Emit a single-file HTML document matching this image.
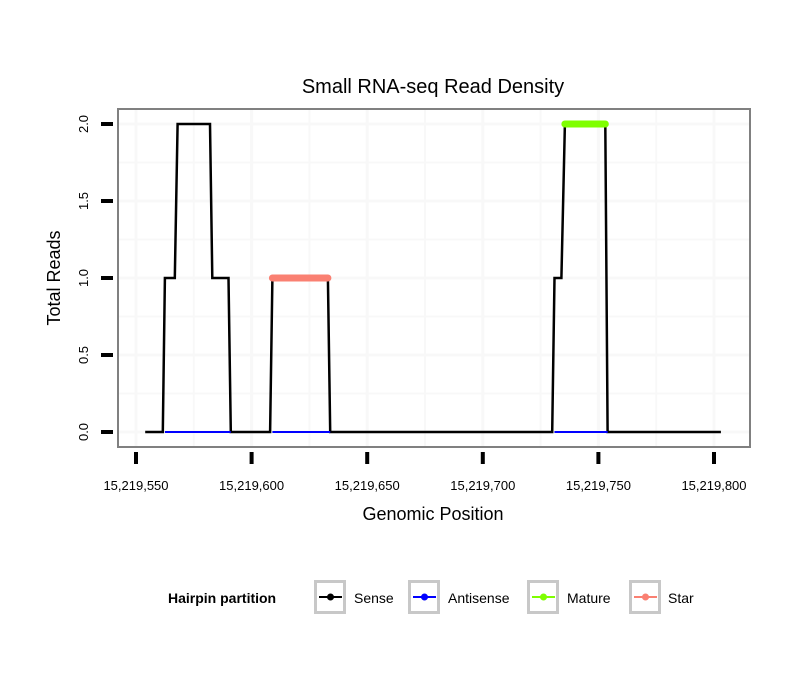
<!DOCTYPE html>
<html><head><meta charset="utf-8"><style>
body{margin:0;background:#fff;}
svg text{font-family:"Liberation Sans",sans-serif;}
</style></head><body>
<svg id="chart" width="810" height="690" viewBox="0 0 810 690">
<rect x="0" y="0" width="810" height="690" fill="#fff"/>
<text x="433" y="93" font-size="20" text-anchor="middle" fill="#000">Small RNA-seq Read Density</text>
<g id="grid"></g>
<g id="series"></g>
<rect x="118" y="109" width="632" height="338" fill="none" stroke="#808080" stroke-width="2"/>
<g id="axes"></g>
<text x="433" y="520" font-size="18" text-anchor="middle">Genomic Position</text>
<text transform="translate(60,278) rotate(-90)" font-size="18" text-anchor="middle">Total Reads</text>
<g id="legend">
<text x="168" y="603" font-size="14" font-weight="bold">Hairpin partition</text>
</g>
</svg>
<script>
const xTicks=[15219550,15219600,15219650,15219700,15219750,15219800];
const xTickLabels=["15,219,550","15,219,600","15,219,650","15,219,700","15,219,750","15,219,800"];
const yTicks=[0,0.5,1,1.5,2];
const yTickLabels=["0.0","0.5","1.0","1.5","2.0"];
const senseX=[15219554,15219561.6,15219562.5,15219566.8,15219568,15219582,15219583,15219590,15219591,15219608,15219609,15219633,15219634,15219730,15219731,15219734,15219735.5,15219753,15219754,15219803];
const senseY=[0,0,1,1,2,2,1,1,0,0,1,1,0,0,1,1,2,2,0,0];
const antisenseSegs=[[15219562.5,15219591],[15219609,15219634],[15219731,15219754]];
const matureSeg=[15219735.5,15219753];
const matureVal=2;
const starSeg=[15219609,15219633];
const starVal=1;
const legendLabels=["Sense","Antisense","Mature","Star"];
const legendColors=["#000000","#0000ff","#7fff00","#fa8072"];

const NS="http://www.w3.org/2000/svg";
function X(v){return 136+(v-15219550)*(578/250);}
function Y(v){return 432-v*154;}
function mk(tag,attrs,parent){const e=document.createElementNS(NS,tag);for(const k in attrs)e.setAttribute(k,attrs[k]);parent.appendChild(e);return e;}
const grid=document.getElementById('grid'),series=document.getElementById('series'),axes=document.getElementById('axes'),legend=document.getElementById('legend');
for(let i=0;i<xTicks.length;i++){
  for(const v of [xTicks[i],xTicks[i]+25]){
    const x=X(v); if(x<118||x>750) continue;
    const l=mk('line',{x1:x,x2:x,y1:109,y2:447,stroke:'#f8f8f8','stroke-width':v===xTicks[i]?3:2},grid);
    
    
  }
  const t=mk('line',{x1:X(xTicks[i]),x2:X(xTicks[i]),y1:452,y2:464,stroke:'#000','stroke-width':4},axes);
  
  
  const tx=mk('text',{x:X(xTicks[i]),y:490,'font-size':13,'text-anchor':'middle'},axes);tx.textContent=xTickLabels[i];
  
  
}
for(let i=0;i<yTicks.length;i++){
  for(const v of [yTicks[i],yTicks[i]+0.25]){
    const y=Y(v); if(y<109||y>447) continue;
    const l=mk('line',{x1:118,x2:750,y1:y,y2:y,stroke:'#f8f8f8','stroke-width':v===yTicks[i]?3:2},grid);
    
    
  }
  const t=mk('line',{x1:101,x2:113,y1:Y(yTicks[i]),y2:Y(yTicks[i]),stroke:'#000','stroke-width':4},axes);
  
  
  const tx=mk('text',{transform:`translate(88,${Y(yTicks[i])}) rotate(-90)`,'font-size':13,'text-anchor':'middle'},axes);tx.textContent=yTickLabels[i];
  
  
}
const pts=senseX.map((v,i)=>X(v).toFixed(1)+','+Y(senseY[i]).toFixed(1)).join(' ');
const sl=mk('polyline',{points:pts,fill:'none',stroke:'#000','stroke-width':2.5},series);


for(const s of antisenseSegs){
  const l=mk('line',{x1:X(s[0]),x2:X(s[1]),y1:Y(0),y2:Y(0),stroke:'#0000ff','stroke-width':2},series);
  
  
}
const ml=mk('line',{x1:X(matureSeg[0]),x2:X(matureSeg[1]),y1:Y(matureVal),y2:Y(matureVal),stroke:'#7fff00','stroke-width':7,'stroke-linecap':'round'},series);


const st=mk('line',{x1:X(starSeg[0]),x2:X(starSeg[1]),y1:Y(starVal),y2:Y(starVal),stroke:'#fa8072','stroke-width':7,'stroke-linecap':'round'},series);


const boxX=[314,408,527,629],labX=[354,448,567,668];
for(let i=0;i<legendLabels.length;i++){
  const g=mk('g',{},legend);
  
  
  mk('rect',{x:boxX[i]+1.5,y:581.5,width:29,height:31,fill:'#fff',stroke:'#c8c8c8','stroke-width':3},g);
  mk('line',{x1:boxX[i]+5,x2:boxX[i]+28,y1:597,y2:597,stroke:legendColors[i],'stroke-width':2},g);
  mk('circle',{cx:boxX[i]+16.5,cy:597,r:3.5,fill:legendColors[i]},g);
  const t=mk('text',{x:labX[i],y:603,'font-size':14},g);t.textContent=legendLabels[i];
}
</script>
</body></html>
